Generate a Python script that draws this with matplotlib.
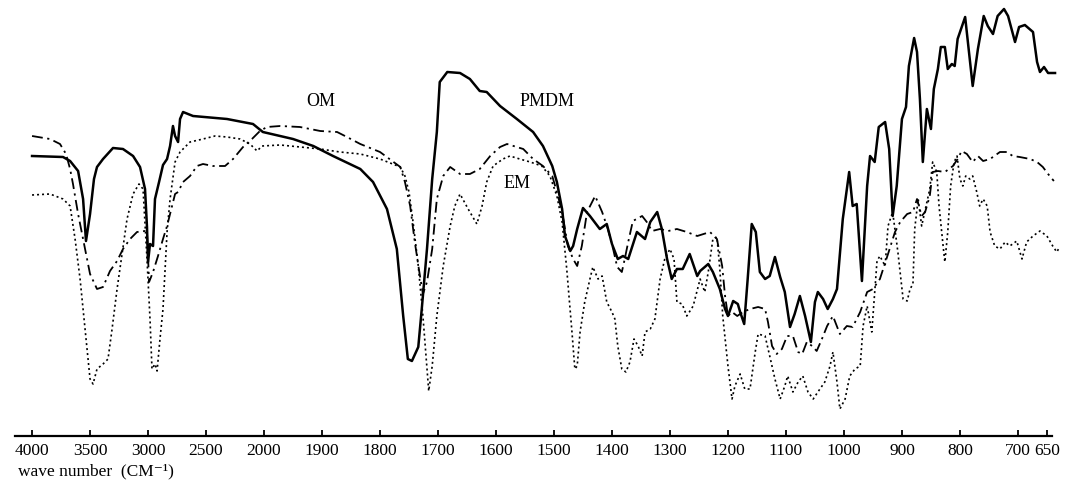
import matplotlib.pyplot as plt
import numpy as np

# IR spectra of PMDM, OM and EM, transmittance in arbitrary units
pmdmWn = [4000, 3733, 3672, 3603, 3560, 3535, 3500, 3466, 3440, 3388,
          3302, 3216, 3129, 3069, 3026, 3009, 3000, 2983, 2957, 2940,
          2905, 2871, 2836, 2810, 2785, 2767, 2741, 2724, 2698, 2612,
          2319, 2095, 2010, 1950, 1915, 1881, 1834, 1812, 1788, 1771,
          1760, 1752, 1745, 1734, 1728, 1719, 1710, 1702, 1697, 1684,
          1662, 1645, 1628, 1616, 1593, 1564, 1536, 1519, 1503, 1495,
          1486, 1481, 1472, 1467, 1460, 1450, 1438, 1421, 1409, 1400,
          1390, 1381, 1372, 1357, 1343, 1334, 1322, 1314, 1305, 1297,
          1288, 1278, 1266, 1253, 1248, 1234, 1226, 1214, 1205, 1200,
          1191, 1183, 1179, 1172, 1166, 1159, 1152, 1145, 1136, 1128,
          1119, 1110, 1102, 1093, 1085, 1076, 1067, 1057, 1050, 1045,
          1036, 1028, 1019, 1012, 1002, 991, 985, 978, 969, 960,
          955, 947, 940, 929, 922, 916, 909, 900, 893, 888,
          879, 874, 869, 864, 857, 850, 845, 838, 833, 826,
          821, 814, 809, 804, 791, 783, 778, 769, 759, 752,
          743, 735, 724, 717, 705, 698, 688, 674, 667, 662,
          655, 648, 636]
pmdmT = [283, 282, 278, 268, 240, 198, 225, 260, 272, 280,
         291, 290, 283, 272, 250, 212, 177, 195, 193, 240,
         257, 274, 280, 293, 313, 303, 297, 320, 327, 323,
         320, 315, 307, 300, 293, 283, 270, 257, 230, 190,
         123, 80, 78, 92, 130, 190, 260, 307, 357, 367,
         366, 360, 348, 347, 333, 320, 307, 293, 273, 257,
         230, 203, 188, 193, 210, 231, 223, 210, 215, 195,
         180, 183, 180, 207, 200, 217, 227, 210, 180, 160,
         170, 170, 185, 163, 168, 175, 167, 150, 130, 123,
         138, 135, 127, 115, 160, 215, 207, 167, 160, 163,
         182, 162, 147, 112, 125, 143, 123, 97, 137, 147,
         140, 130, 140, 150, 220, 267, 233, 235, 158, 253,
         283, 277, 312, 317, 290, 223, 253, 320, 332, 373,
         401, 387, 340, 277, 330, 310, 350, 370, 392, 392,
         370, 375, 373, 400, 422, 380, 353, 390, 423, 413,
         405, 423, 430, 423, 397, 412, 414, 407, 377, 367,
         372, 366, 366]

omWn = [4000, 3845, 3759, 3707, 3672, 3647, 3603, 3543, 3500, 3440,
        3388, 3328, 3267, 3216, 3155, 3095, 3026, 3009, 2991, 2957,
        2914, 2871, 2836, 2793, 2767, 2741, 2698, 2638, 2578, 2526,
        2440, 2336, 2267, 2181, 2104, 2035, 1995, 1972, 1938, 1903,
        1874, 1857, 1834, 1800, 1765, 1757, 1748, 1740, 1733, 1726,
        1719, 1710, 1702, 1691, 1679, 1662, 1645, 1628, 1610, 1593,
        1581, 1564, 1553, 1536, 1519, 1503, 1495, 1486, 1476, 1467,
        1460, 1452, 1443, 1429, 1417, 1407, 1398, 1391, 1383, 1378,
        1372, 1364, 1348, 1340, 1331, 1317, 1303, 1288, 1271, 1253,
        1231, 1219, 1210, 1205, 1200, 1193, 1184, 1174, 1162, 1148,
        1136, 1131, 1124, 1116, 1107, 1098, 1088, 1079, 1072, 1064,
        1055, 1047, 1038, 1029, 1019, 1007, 995, 985, 972, 960,
        950, 938, 924, 912, 903, 891, 881, 874, 866, 860,
        852, 847, 838, 826, 812, 804, 797, 788, 778, 769,
        760, 748, 731, 719, 709, 697, 679, 667, 657, 648,
        638]
omT = [303, 300, 295, 285, 270, 255, 225, 190, 165, 150,
       152, 168, 178, 190, 200, 207, 208, 207, 157, 167,
       183, 200, 213, 233, 245, 247, 257, 263, 273, 275,
       273, 273, 280, 292, 300, 308, 312, 313, 312, 308,
       307, 302, 295, 287, 272, 257, 233, 197, 170, 145,
       157, 190, 240, 263, 272, 265, 265, 270, 283, 292,
       295, 292, 290, 280, 273, 263, 247, 227, 193, 180,
       173, 193, 227, 243, 227, 210, 190, 172, 167, 180,
       197, 218, 223, 217, 208, 210, 208, 210, 207, 203,
       207, 200, 173, 143, 123, 127, 123, 127, 130, 132,
       130, 117, 93, 85, 90, 103, 103, 87, 85, 97,
       93, 88, 100, 113, 123, 105, 113, 112, 127, 147,
       150, 160, 185, 207, 217, 225, 227, 240, 223, 227,
       243, 267, 268, 267, 273, 280, 288, 285, 277, 283,
       278, 280, 287, 287, 283, 282, 280, 277, 272, 265,
       258]

emWn = [4000, 3845, 3733, 3672, 3629, 3586, 3543, 3500, 3474, 3440,
        3388, 3345, 3310, 3267, 3224, 3181, 3129, 3078, 3043, 3009,
        2983, 2966, 2940, 2922, 2897, 2871, 2853, 2836, 2810, 2767,
        2724, 2638, 2526, 2423, 2319, 2207, 2121, 2060, 2017, 1972,
        1938, 1903, 1869, 1834, 1800, 1765, 1757, 1750, 1743, 1734,
        1726, 1719, 1716, 1710, 1702, 1691, 1679, 1671, 1662, 1648,
        1633, 1624, 1616, 1605, 1588, 1576, 1559, 1541, 1521, 1507,
        1495, 1486, 1478, 1469, 1464, 1460, 1455, 1447, 1438, 1433,
        1424, 1417, 1409, 1400, 1395, 1390, 1383, 1376, 1369, 1362,
        1355, 1348, 1343, 1334, 1326, 1317, 1309, 1300, 1293, 1288,
        1279, 1271, 1260, 1248, 1240, 1234, 1226, 1219, 1214, 1209,
        1200, 1193, 1188, 1179, 1171, 1162, 1153, 1148, 1136, 1128,
        1119, 1110, 1102, 1097, 1088, 1079, 1071, 1062, 1053, 1045,
        1033, 1024, 1019, 1012, 1007, 998, 990, 981, 972, 967,
        960, 952, 943, 938, 929, 924, 916, 907, 898, 891,
        886, 881, 878, 872, 866, 857, 852, 847, 840, 836,
        829, 826, 821, 816, 810, 805, 800, 795, 790, 783,
        778, 771, 766, 760, 753, 748, 740, 731, 722, 714,
        702, 693, 685, 674, 662, 650, 640, 633, 628]
emT = [244, 245, 240, 233, 200, 160, 110, 60, 55, 70,
       75, 80, 110, 150, 185, 220, 245, 255, 250, 180,
       120, 70, 75, 68, 100, 130, 170, 207, 240, 277,
       287, 297, 300, 303, 302, 300, 295, 288, 293, 294,
       292, 290, 287, 285, 280, 272, 263, 247, 217, 173,
       123, 70, 48, 73, 123, 173, 213, 233, 245, 230,
       215, 233, 257, 273, 280, 283, 280, 277, 273, 263,
       243, 217, 170, 107, 70, 73, 107, 137, 160, 172,
       160, 163, 137, 127, 120, 93, 70, 67, 77, 100,
       93, 83, 107, 110, 120, 160, 180, 190, 180, 137,
       135, 123, 133, 160, 147, 167, 200, 202, 170, 123,
       73, 40, 53, 65, 50, 50, 87, 105, 103, 83,
       60, 40, 53, 63, 47, 57, 63, 47, 40, 47,
       57, 73, 87, 57, 30, 40, 63, 70, 73, 113,
       133, 107, 178, 183, 173, 213, 227, 187, 140, 138,
       150, 155, 210, 240, 213, 237, 250, 277, 267, 233,
       193, 177, 207, 253, 277, 283, 260, 253, 263, 260,
       263, 247, 233, 240, 233, 207, 193, 190, 197, 193,
       198, 180, 197, 203, 208, 203, 193, 187, 192]

tickWn = [4000, 3500, 3000, 2500, 2000, 1900, 1800, 1700, 1600, 1500,
          1400, 1300, 1200, 1100, 1000, 900, 800, 700, 650]

serif = ['Liberation Serif', 'DejaVu Serif']


# grating change at 2000: 500 cm-1 per division above, 100 cm-1 below.
# forward is kept increasing with wavenumber, the axis is then reversed
def wnToPos(wn):
    wn = np.asarray(wn, dtype=float)
    return -np.where(wn >= 2000, (4000 - wn) / 500, 4 + (2000 - wn) / 100)


def posToWn(pos):
    pos = -np.asarray(pos, dtype=float)
    return np.where(pos <= 4, 4000 - 500 * pos, 2000 - 100 * (pos - 4))


fig = plt.figure(figsize=(10.75, 4.85), dpi=100)
ax = fig.add_axes([15 / 1075, 48 / 485, 1047 / 1075, 437 / 485])
ax.set_xscale('function', functions=(wnToPos, posToWn))
ax.set_xlim(4147, 624)
ax.set_ylim(3, 440)

ax.plot(pmdmWn, pmdmT, color='black', lw=1.8, solid_joinstyle='round')
ax.plot(omWn, omT, color='black', lw=1.3, linestyle=(0, (6, 2.5, 1.2, 2.5)))
ax.plot(emWn, emT, color='black', lw=1.2, linestyle=(0, (1.2, 1.8)))

ax.text(1902, 339, 'OM', fontsize=13, family=serif, ha='center', va='center')
ax.text(1512, 339, 'PMDM', fontsize=13, family=serif, ha='center', va='center')
ax.text(1564, 257, 'EM', fontsize=13, family=serif, ha='center', va='center')

for side in ['top', 'right', 'left']:
    ax.spines[side].set_visible(False)
ax.spines['bottom'].set_linewidth(1.6)
ax.spines['bottom'].set_bounds(4147, 641)
ax.set_yticks([])
ax.set_xticks(tickWn)
ax.set_xticklabels([str(t) for t in tickWn], fontsize=12.5, family=serif)
ax.tick_params(axis='x', direction='in', length=4, width=1.3, pad=4)

fig.text(18 / 1075, 1 - 471 / 485, 'wave number  (CM\u207b\u00b9)',
         fontsize=12.5, family=serif, va='center', ha='left')

plt.savefig('out.png', dpi=100)
plt.close()
